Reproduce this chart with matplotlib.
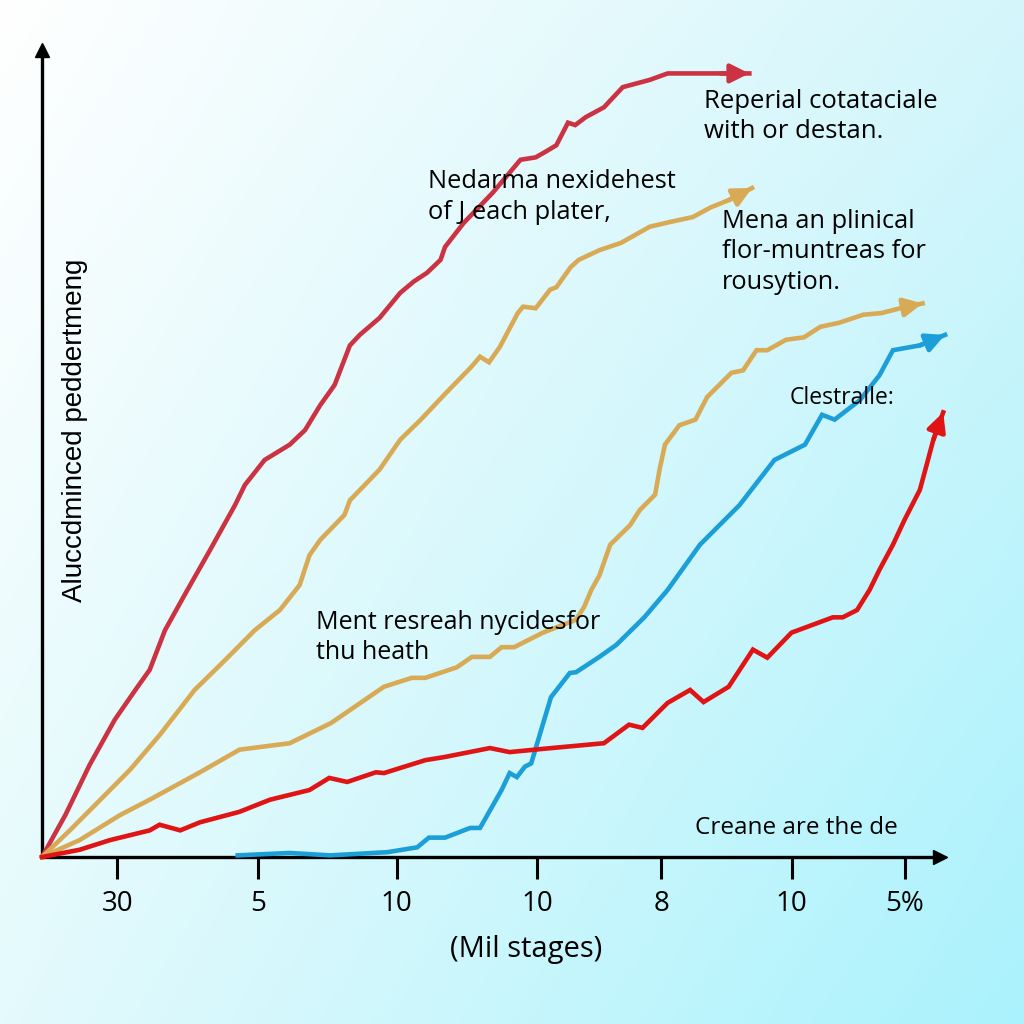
import numpy as np
import matplotlib.pyplot as plt
from matplotlib.colors import to_rgb

# x in "stage" units (0-100 = axis length), y in percent of axis height
top_red_x = [0, 2.6, 5.3, 8.1, 10.4, 12.0, 13.7, 15.9, 18.7, 21.5, 22.6, 24.8, 27.6, 29.3, 31.0,
             32.6, 34.3, 35.4, 37.6, 39.9, 41.4, 42.9, 44.4, 44.9, 47.0, 50.2, 53.3, 55.0, 56.1,
             57.3, 58.6, 59.4, 60.6, 62.6, 64.7, 67.7, 69.7, 75.6, 78.8]
top_red_y = [0, 5.2, 11.4, 17.0, 20.7, 23.2, 28.1, 32.5, 38.0, 43.6, 46.1, 49.2, 51.1, 52.9, 56.0,
             58.5, 63.4, 64.7, 66.8, 69.9, 71.3, 72.4, 74.0, 75.6, 78.6, 82.3, 86.4, 86.7, 87.4,
             88.2, 91.0, 90.7, 91.7, 92.9, 95.4, 96.3, 97.1, 97.1, 97.1]

gold_hi_x = [0, 3.1, 6.5, 9.8, 13.1, 17.0, 20.4, 23.7, 26.5, 28.7, 29.8, 31.0, 33.7, 34.3, 37.6,
             39.9, 42.2, 45.0, 47.8, 48.8, 49.8, 51.0, 53.0, 53.6, 55.0, 56.6, 57.3, 58.9, 59.8,
             62.1, 64.5, 67.7, 70.0, 72.5, 74.5, 76.5, 79.1]
gold_hi_y = [0, 3.3, 7.1, 10.8, 15.1, 20.7, 24.4, 28.1, 30.6, 33.7, 37.4, 39.3, 42.4, 44.2, 48.0,
             51.7, 54.2, 57.5, 60.7, 62.0, 61.3, 63.2, 67.4, 68.2, 68.0, 70.3, 70.6, 73.1, 74.0,
             75.2, 76.1, 78.1, 78.7, 79.3, 80.5, 81.4, 82.9]

gold_lo_x = [0, 4.2, 8.7, 12.0, 17.6, 22.0, 27.6, 32.2, 38.1, 41.2, 42.7, 46.2, 47.9, 49.9, 51.2,
             52.6, 55.8, 59.5, 60.4, 61.2, 62.1, 63.3, 65.5, 66.6, 68.3, 68.8, 69.4, 71.0, 72.8,
             74.1, 76.8, 78.1, 79.6, 80.8, 82.9, 84.9, 86.7, 88.8, 91.5, 93.5, 96.3, 98.1]
gold_lo_y = [0, 2.1, 5.2, 7.1, 10.5, 13.3, 14.1, 16.6, 21.1, 22.2, 22.2, 23.5, 24.8, 24.8, 26.0,
             26.0, 27.8, 29.4, 31.0, 33.1, 34.9, 38.7, 41.1, 43.0, 44.9, 48.0, 51.1, 53.5, 54.2,
             57.0, 60.0, 60.3, 62.8, 62.8, 64.1, 64.4, 65.7, 66.2, 67.2, 67.4, 68.2, 68.6]

blue_x = [21.8, 27.6, 32.1, 38.5, 41.8, 43.1, 44.9, 47.7, 48.8, 51.2, 52.1, 52.9, 53.8, 54.5,
          56.7, 58.8, 59.5, 62.1, 64.0, 67.1, 69.7, 73.3, 77.7, 81.6, 85.0, 86.9, 88.3, 91.1,
          93.3, 94.8, 97.8, 100.6]
blue_y = [0.2, 0.5, 0.2, 0.6, 1.2, 2.4, 2.4, 3.6, 3.6, 8.3, 10.4, 9.9, 11.2, 11.6,
          19.8, 22.8, 22.9, 24.8, 26.3, 29.7, 33.1, 38.7, 43.6, 49.2, 51.1, 54.8, 54.2, 56.6,
          59.7, 62.8, 63.4, 64.7]

red_x = [0, 4.2, 7.6, 12.0, 13.1, 15.4, 17.6, 22.0, 25.4, 29.8, 32.0, 34.0, 37.2, 38.1, 42.7,
         44.9, 49.9, 52.1, 55.8, 62.6, 65.4, 66.9, 69.7, 72.2, 73.7, 76.5, 79.2, 80.8, 83.5,
         88.1, 89.2, 90.8, 92.2, 93.3, 94.8, 96.1, 97.8, 98.7, 99.3, 100.4]
red_y = [0, 0.9, 2.1, 3.3, 4.0, 3.3, 4.3, 5.6, 7.1, 8.3, 9.8, 9.3, 10.5, 10.4, 12.0,
         12.4, 13.5, 13.0, 13.4, 14.1, 16.4, 16.0, 19.1, 20.7, 19.2, 21.1, 25.7, 24.7, 27.8,
         29.7, 29.7, 30.6, 33.1, 35.6, 38.7, 41.8, 45.5, 49.2, 51.7, 55.1]

tick_pos = [8.4, 24.1, 39.5, 55.2, 69.0, 83.5, 96.1]
tick_labels = ["30", "5", "10", "10", "8", "10", "5%"]

series = [
    (top_red_x, top_red_y, "#cc3342"),
    (gold_hi_x, gold_hi_y, "#d9aa55"),
    (gold_lo_x, gold_lo_y, "#d9aa55"),
    (blue_x, blue_y, "#1c9fd8"),
    (red_x, red_y, "#e01414"),
]

notes = [
    (73.8, 95.2, "Reperial cotataciale\nwith or destan.", 18.5),
    (43.0, 85.2, "Nedarma nexidehest\nof J each plater,", 18.3),
    (75.7, 80.3, "Mena an plinical\nflor-muntreas for\nrousytion.", 18.3),
    (83.3, 58.4, "Clestralle:", 16.5),
    (30.5, 30.6, "Ment resreah nycidesfor\nthu heath", 18),
    (72.7, 5.1, "Creane are the de", 17.5),
]

fig = plt.figure(figsize=(10.24, 10.24), dpi=100)

# background gradient from the four corner colours
bg = fig.add_axes([0, 0, 1, 1])
tl, tr = np.array(to_rgb("#ffffff")), np.array(to_rgb("#d4f6fb"))
bl, br = np.array(to_rgb("#e4fafc")), np.array(to_rgb("#aaf2fd"))
u = np.linspace(0, 1, 256)[None, :, None]
v = np.linspace(0, 1, 256)[:, None, None]
img = (1 - u) * (1 - v) * tl + u * (1 - v) * tr + (1 - u) * v * bl + u * v * br
bg.imshow(img, extent=[0, 1, 0, 1], aspect="auto", origin="upper")
bg.axis("off")

ax = fig.add_axes([42 / 1024, 167 / 1024, 982 / 1024, 857 / 1024])
ax.patch.set_alpha(0)
ax.set_xlim(0, 109.4)
ax.set_ylim(0, 106.2)

for xs, ys, c in series:
    ax.plot(xs, ys, color=c, lw=3.3, solid_joinstyle="miter", clip_on=False, zorder=3)
    ax.annotate("", xy=(xs[-1], ys[-1]), xytext=(xs[-2], ys[-2]),
                arrowprops=dict(arrowstyle="-|>", color=c, lw=3.3,
                                mutation_scale=28, shrinkA=0, shrinkB=0),
                zorder=3, annotation_clip=False)

# axes with arrow heads
for sp in ["top", "right"]:
    ax.spines[sp].set_visible(False)
ax.spines["bottom"].set_bounds(0, 99)
ax.spines["left"].set_bounds(0, 99)
ax.spines["bottom"].set_linewidth(2.4)
ax.spines["left"].set_linewidth(2.4)
ax.plot(100, 0, ">", color="black", ms=10, clip_on=False, zorder=4)
ax.plot(0, 100, "^", color="black", ms=10, clip_on=False, zorder=4)

ax.set_xticks(tick_pos)
ax.set_xticklabels(tick_labels, fontsize=20, family="Open Sans")
ax.tick_params(axis="x", direction="out", length=16, width=2.2, pad=8)
ax.set_yticks([])

ax.text(3.7, 52.9, "Aluccdminced peddertmeng", rotation=90, fontsize=20,
        family="Liberation Sans", ha="center", va="center")
ax.text(53.9, -11.5, "(Mil stages)", fontsize=21, family="Open Sans",
        ha="center", va="center")

for x, y, s, fs in notes:
    ax.text(x, y, s, fontsize=fs, family="Open Sans", ha="left", va="top",
            linespacing=1.28, zorder=5)

fig.savefig("out.png", dpi=100)
